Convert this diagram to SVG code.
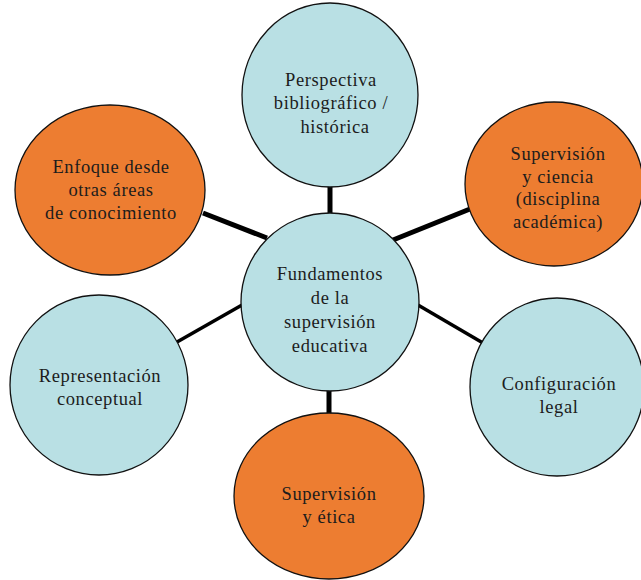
<svg xmlns="http://www.w3.org/2000/svg" width="641" height="580" viewBox="0 0 641 580">
  <style>
    .blue { fill: #b9e0e4; stroke: #111; stroke-width: 1.3; }
    .orange { fill: #ed7d31; stroke: #111; stroke-width: 1.3; }
    text { font-family: 'Liberation Serif', 'Times New Roman', 'DejaVu Serif', serif; font-size: 18.5px; letter-spacing: 0.6px; fill: #1c1c1c; text-anchor: middle; }
    .thick { stroke: #000; stroke-width: 5; }
    .thin { stroke: #000; stroke-width: 3.5; }
  </style>
  <rect width="641" height="580" fill="#fff"/>

  <!-- connectors between hub and satellites -->
  <g id="connectors">
    <line class="thick" x1="330" y1="186" x2="330" y2="215"/>
    <line class="thick" x1="203" y1="213" x2="267" y2="238"/>
    <line class="thick" x1="470" y1="209" x2="393" y2="240"/>
    <line class="thin" x1="177" y1="342" x2="242" y2="305"/>
    <line class="thin" x1="418" y1="305" x2="483" y2="343"/>
    <line class="thick" x1="329" y1="389" x2="329" y2="415"/>
  </g>

  <g id="node-perspectiva">
    <ellipse class="blue" cx="330" cy="95" rx="88" ry="92"/>
    <text x="331" y="86">Perspectiva</text>
    <text x="331" y="109">bibliográfico /</text>
    <text x="335" y="133">histórica</text>
  </g>

  <g id="node-enfoque">
    <ellipse class="orange" cx="110" cy="190" rx="95" ry="85"/>
    <text x="111" y="173">Enfoque desde</text>
    <text x="111" y="196">otras áreas</text>
    <text x="111" y="219">de conocimiento</text>
  </g>

  <g id="node-ciencia">
    <ellipse class="orange" cx="554" cy="184" rx="89" ry="82"/>
    <text x="558" y="160">Supervisión</text>
    <text x="558" y="183">y ciencia</text>
    <text x="558" y="205">(disciplina</text>
    <text x="558" y="228">académica)</text>
  </g>

  <g id="node-fundamentos">
    <ellipse class="blue" cx="330" cy="302" rx="89" ry="89"/>
    <text x="330" y="280">Fundamentos</text>
    <text x="330" y="304">de la</text>
    <text x="330" y="328">supervisión</text>
    <text x="330" y="352">educativa</text>
  </g>

  <g id="node-representacion">
    <ellipse class="blue" cx="99" cy="385" rx="89" ry="90"/>
    <text x="100" y="382">Representación</text>
    <text x="100" y="405">conceptual</text>
  </g>

  <g id="node-configuracion">
    <ellipse class="blue" cx="557" cy="387" rx="87" ry="89"/>
    <text x="559" y="390">Configuración</text>
    <text x="559" y="413">legal</text>
  </g>

  <g id="node-etica">
    <ellipse class="orange" cx="329" cy="496" rx="95" ry="83"/>
    <text x="329" y="500">Supervisión</text>
    <text x="329" y="523">y ética</text>
  </g>
</svg>
